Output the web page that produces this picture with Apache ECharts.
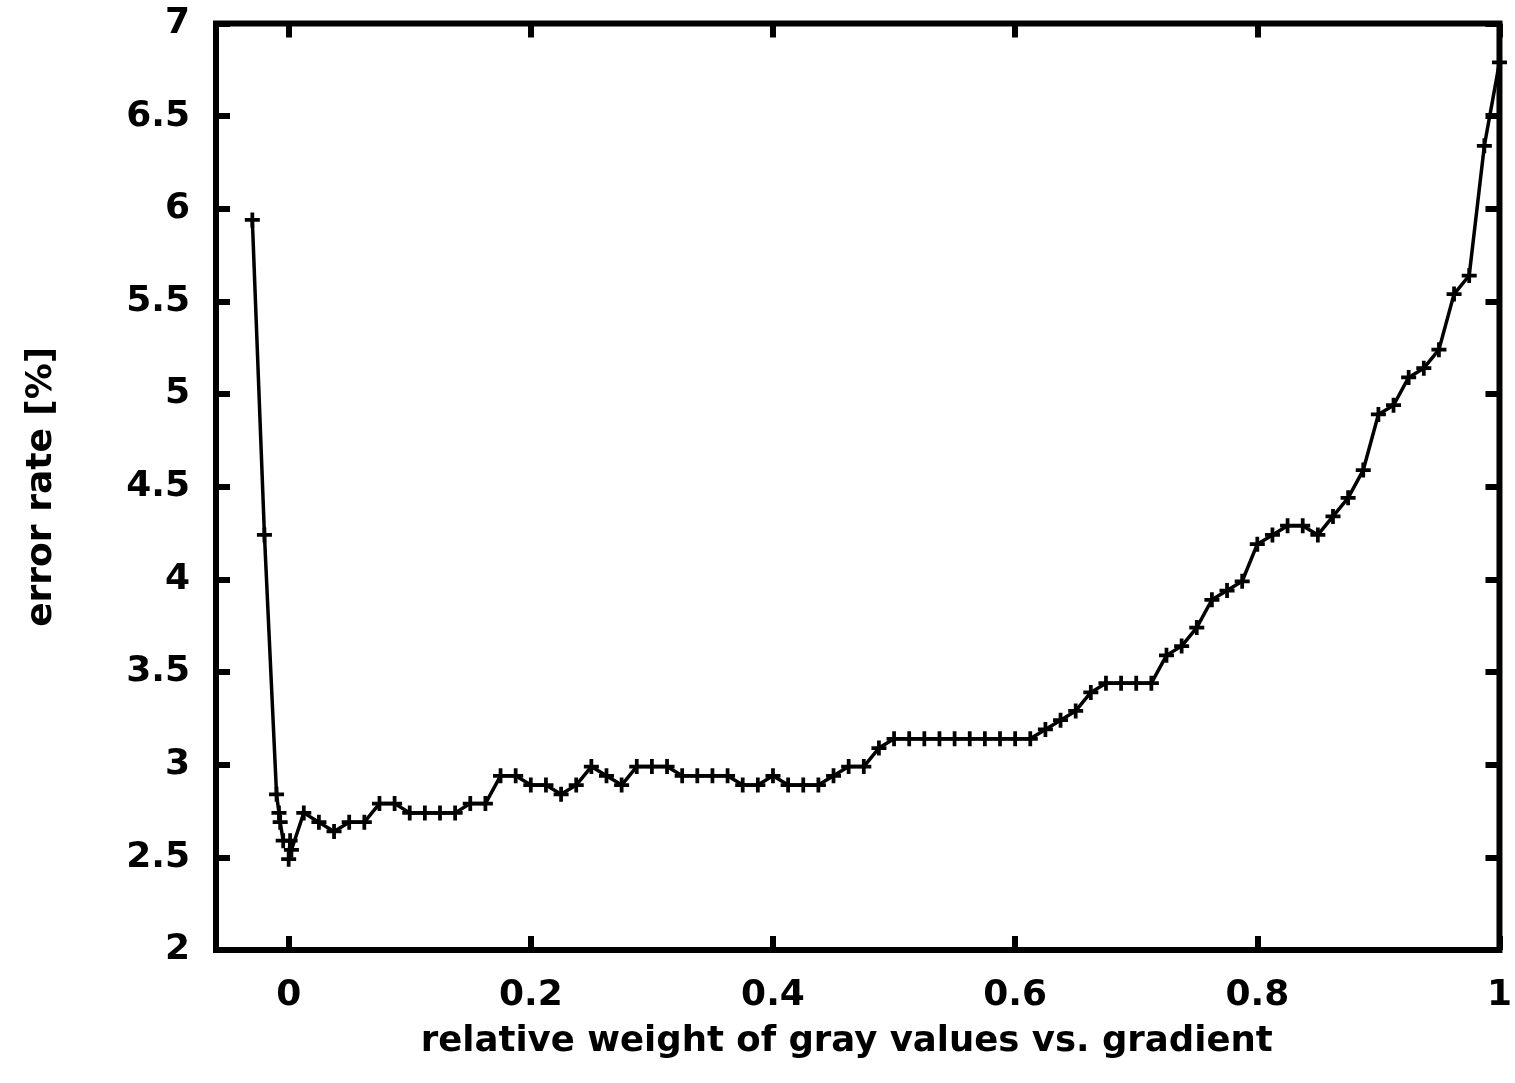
<!DOCTYPE html>
<html>
<head>
<meta charset="utf-8">
<script src="https://cdn.jsdelivr.net/npm/echarts@6/dist/echarts.min.js"></script>
<style>
  html, body { margin: 0; padding: 0; background: #fff; }
  #errorChart { width: 1515px; height: 1083px; }
</style>
</head>
<body>
<div id="errorChart"></div>
<script>
// relative weight of gray values vs. gradient
const weights = [
  -0.03, -0.02, -0.01, -0.008, -0.007, -0.0045, 0.0012, 0, 0.0023,
  0.0125, 0.025, 0.0375, 0.05, 0.0625, 0.075, 0.0875, 0.1, 0.1125, 0.125,
  0.1375, 0.15, 0.1625, 0.175, 0.1875, 0.2, 0.2125, 0.225, 0.2375, 0.25,
  0.2625, 0.275, 0.2875, 0.3, 0.3125, 0.325, 0.3375, 0.35, 0.3625, 0.375,
  0.3875, 0.4, 0.4125, 0.425, 0.4375, 0.45, 0.4625, 0.475, 0.4875, 0.5,
  0.5125, 0.525, 0.5375, 0.55, 0.5625, 0.575, 0.5875, 0.6, 0.6125, 0.625,
  0.6375, 0.65, 0.6625, 0.675, 0.6875, 0.7, 0.7125, 0.725, 0.7375, 0.75,
  0.7625, 0.775, 0.7875, 0.8, 0.8125, 0.825, 0.8375, 0.85, 0.8625, 0.875,
  0.8875, 0.9, 0.9125, 0.925, 0.9375, 0.95, 0.9625, 0.975, 0.9875, 1
]

// error rate [%]
const errorRate = [
  5.94, 4.24, 2.84, 2.74, 2.69, 2.59, 2.59, 2.49, 2.54,
  2.74, 2.69, 2.64, 2.69, 2.69, 2.79, 2.79, 2.74, 2.74, 2.74,
  2.74, 2.79, 2.79, 2.94, 2.94, 2.89, 2.89, 2.84, 2.89, 2.99,
  2.94, 2.89, 2.99, 2.99, 2.99, 2.94, 2.94, 2.94, 2.94, 2.89,
  2.89, 2.94, 2.89, 2.89, 2.89, 2.94, 2.99, 2.99, 3.09, 3.14,
  3.14, 3.14, 3.14, 3.14, 3.14, 3.14, 3.14, 3.14, 3.14, 3.19,
  3.24, 3.29, 3.39, 3.44, 3.44, 3.44, 3.44, 3.59, 3.64, 3.74,
  3.89, 3.94, 3.99, 4.19, 4.24, 4.29, 4.29, 4.24, 4.34, 4.44,
  4.59, 4.89, 4.94, 5.09, 5.14, 5.24, 5.54, 5.64, 6.34, 6.79
]

const xTicks = [0, 0.2, 0.4, 0.6, 0.8, 1]

const xName = 'relative weight of gray values vs. gradient'
const yName = 'error rate [%]'

const font = 'DejaVu Sans'
const plus = 'path://M3.75,0H6.25V3.75H10V6.25H6.25V10H3.75V6.25H0V3.75H3.75Z'

let charts = echarts.init(document.getElementById('errorChart'))

let tick = { show: true, inside: true, length: 14, lineStyle: { color: '#000', width: 6 } }
let textStyle = { color: '#000', fontFamily: font, fontWeight: 'bold', fontSize: 36 }

let xAxisBase = {
  type: 'value',
  min: -0.06,
  max: 1,
  splitLine: { show: false },
  axisLine: { show: false, onZero: false },
  axisTick: Object.assign({ customValues: xTicks }, tick),
}

let yAxisBase = {
  type: 'value',
  min: 2,
  max: 7,
  interval: 0.5,
  splitLine: { show: false },
  axisLine: { show: false, onZero: false },
  axisTick: tick,
}

let options = {
  animation: false,
  backgroundColor: '#fff',
  grid: {
    left: 216,
    right: 10.5,
    top: 23.5,
    bottom: 133,
    show: true,
    borderColor: '#000',
    borderWidth: 6,
  },
  xAxis: [
    Object.assign({}, xAxisBase, {
      position: 'bottom',
      name: xName,
      nameLocation: 'middle',
      nameGap: 74,
      nameTextStyle: Object.assign({}, textStyle, { fontSize: 35.5, padding: [0, 22, 0, 0] }),
      axisLabel: Object.assign({ customValues: xTicks, margin: 28 }, textStyle),
    }),
    Object.assign({}, xAxisBase, { position: 'top', axisLabel: { show: false } }),
  ],
  yAxis: [
    Object.assign({}, yAxisBase, {
      position: 'left',
      name: yName,
      nameLocation: 'middle',
      nameGap: 156,
      nameTextStyle: textStyle,
      axisLabel: Object.assign({ margin: 26 }, textStyle),
    }),
    Object.assign({}, yAxisBase, { position: 'right', axisLabel: { show: false } }),
  ],
  series: [
    {
      type: 'line',
      xAxisIndex: 0,
      yAxisIndex: 0,
      data: weights.map((w, i) => [w, errorRate[i]]),
      symbol: plus,
      symbolSize: 15,
      showAllSymbol: true,
      clip: false,
      lineStyle: { color: '#000', width: 3.5 },
      itemStyle: { color: '#000' },
    },
  ],
}
charts.setOption(options)
</script>
</body>
</html>
